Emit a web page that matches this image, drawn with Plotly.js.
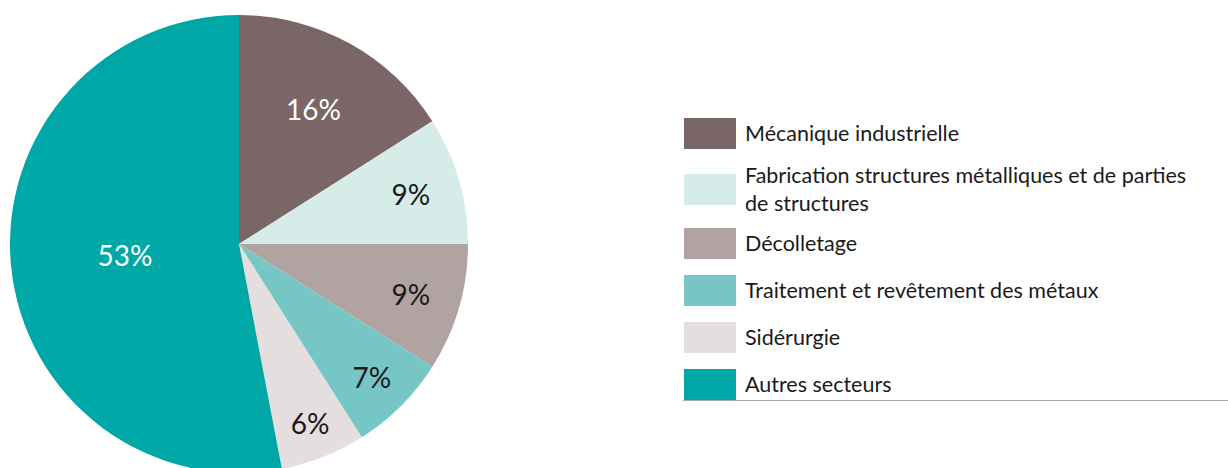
<!DOCTYPE html>
<html>
<head>
<meta charset="utf-8">
<script src="https://cdn.plot.ly/plotly-3.0.1.min.js"></script>
<style>
html,body{margin:0;padding:0;background:#fff;overflow:hidden;}
#wrap{width:1228px;height:468px;overflow:hidden;}
#chart{width:1228px;height:488px;}
</style>
</head>
<body>
<div id="wrap"><div id="chart"></div></div>
<script>
// Data
const categories = [
  "Mécanique industrielle",
  "Fabrication structures métalliques et de parties<br>de structures",
  "Décolletage",
  "Traitement et revêtement des métaux",
  "Sidérurgie",
  "Autres secteurs"
];
const shares = [16, 9, 9, 7, 6, 53];
const colors = ["#7b6667", "#d5ece9", "#b0a3a2", "#76c6c6", "#e4dedf", "#00a7a7"];
const labelColors = ["#ffffff", "#1a1a1a", "#1a1a1a", "#1a1a1a", "#1a1a1a", "#ffffff"];

const W = 1228, H = 488;
const FONT = "Lato, 'Open Sans', sans-serif";

const trace = {
  type: "pie",
  labels: categories,
  values: shares,
  sort: false,
  direction: "clockwise",
  rotation: 0,
  marker: {colors: colors, line: {width: 0}},
  texttemplate: "%{value}%",
  textinfo: "text",
  textposition: "inside",
  insidetextorientation: "horizontal",
  textfont: {family: FONT, size: 28, color: labelColors},
  hoverinfo: "label+percent",
  domain: {x: [10 / W, 468 / W], y: [15 / H, 473 / H]},
  showlegend: false
};

// Manual legend built from the category list
const shapes = [];
const annotations = [];
const boxTops = [118, 174, 228, 275, 322, 369];
categories.forEach((c, i) => {
  const top = boxTops[i];
  const bottom = top + 31;
  shapes.push({
    type: "rect", xref: "paper", yref: "paper",
    x0: 684 / W, x1: 736 / W, y0: 1 - bottom / H, y1: 1 - top / H,
    fillcolor: colors[i], line: {width: 0}
  });
  annotations.push({
    xref: "paper", yref: "paper",
    x: 743 / W, y: 1 - (top + 15) / H,
    xanchor: "left", yanchor: "middle", align: "left",
    text: c, showarrow: false,
    font: {family: FONT, size: 21.5, color: "#1a1a1a"}
  });
});
shapes.push({
  type: "line", xref: "paper", yref: "paper",
  x0: 683 / W, x1: 1, y0: 1 - 400.5 / H, y1: 1 - 400.5 / H,
  line: {color: "#a8a8a8", width: 1}
});

const layout = {
  width: W, height: H,
  margin: {l: 0, r: 0, t: 0, b: 0},
  paper_bgcolor: "#ffffff",
  plot_bgcolor: "#ffffff",
  font: {family: FONT},
  shapes: shapes,
  annotations: annotations,
  showlegend: false
};

Plotly.newPlot("chart", [trace], layout, {displayModeBar: false, staticPlot: true});
</script>
</body>
</html>
